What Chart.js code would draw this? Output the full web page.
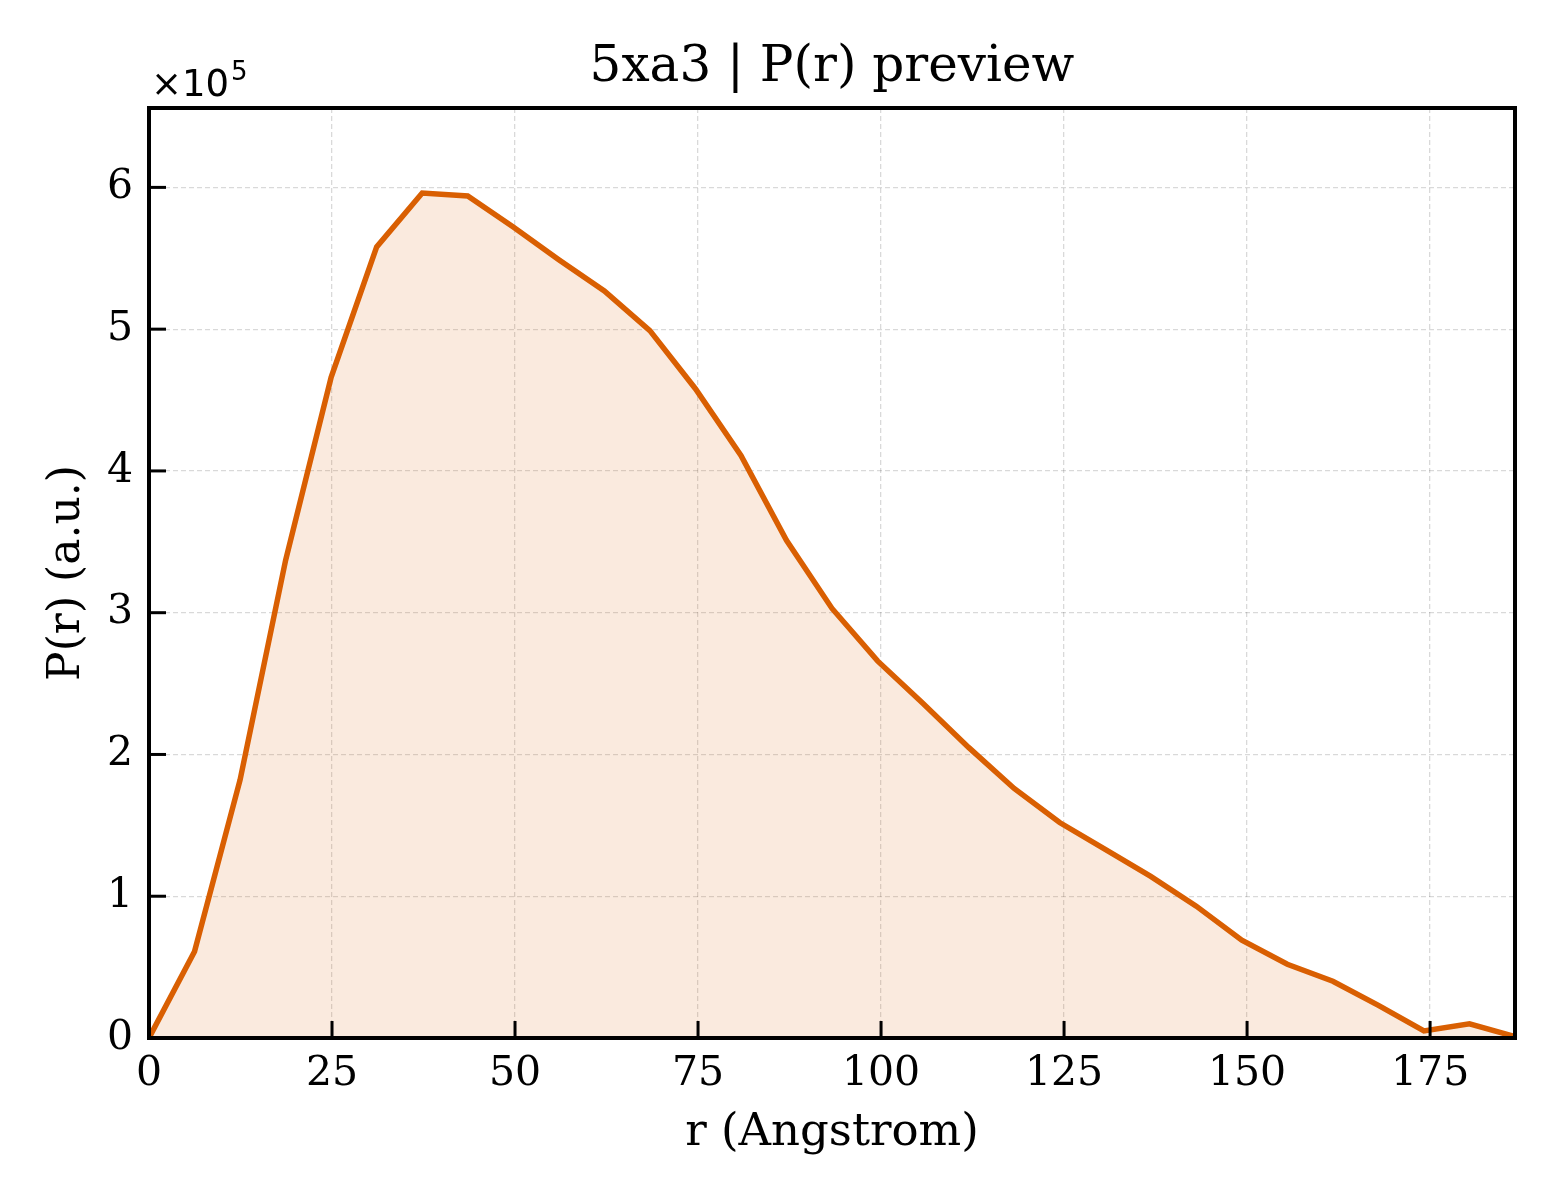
<!DOCTYPE html>
<html>
<head>
<meta charset="utf-8">
<script src="https://cdn.jsdelivr.net/npm/chart.js@4/dist/chart.umd.min.js"></script>
<style>
  html, body { margin: 0; padding: 0; background: #fff; }
  #wrap { width: 1560px; height: 1200px; }
</style>
</head>
<body>
<div id="wrap"><canvas id="c" width="1560" height="1200"></canvas></div>
<script>
// r values (Angstrom)
const rValues = [0, 6.22, 12.44, 18.66, 24.88, 31.1, 37.32, 43.54, 49.76, 55.98, 62.2, 68.42,
  74.64, 80.86, 87.08, 93.3, 99.52, 105.74, 111.96, 118.18, 124.4, 130.62, 136.84, 143.06,
  149.28, 155.5, 161.72, 167.94, 174.16, 180.38, 186.6];
// P(r) values (a.u.)
const prValues = [0, 61000, 182000, 337000, 466000, 558000, 596000, 594000, 572000, 549000, 527000, 499000,
  458000, 411000, 351000, 303000, 266000, 236000, 205000, 176000, 152000, 133000, 114000, 93000,
  69000, 52000, 40000, 23000, 5000, 10000, 1000];
const xTicks = [0, 25, 50, 75, 100, 125, 150, 175];
const yTicks = [0, 1, 2, 3, 4, 5, 6];
const yScaleFactor = 1e5;
const chartTitle = '5xa3 | P(r) preview';
const xLabel = 'r (Angstrom)';
const yLabel = 'P(r) (a.u.)';

const FONT = "'DejaVu Serif', serif";
const MATHFONT = "'DejaVu Sans', sans-serif";
const points = rValues.map((r, i) => ({ x: r, y: prValues[i] }));

const framePlugin = {
  id: 'frame',
  afterLayout(chart) {
    const tb = chart.titleBlock;
    if (tb) {
      tb.left = chart.chartArea.left;
      tb.right = chart.chartArea.right;
      tb.width = tb.right - tb.left;
    }
  },
  afterDraw(chart) {
    const { ctx, chartArea: a, scales } = chart;
    ctx.save();
    ctx.strokeStyle = '#000';
    // inward ticks
    ctx.lineWidth = 3;
    scales.x.ticks.forEach(t => {
      const px = scales.x.getPixelForValue(t.value);
      ctx.beginPath(); ctx.moveTo(px, a.bottom); ctx.lineTo(px, a.bottom - 17); ctx.stroke();
    });
    scales.y.ticks.forEach(t => {
      const py = scales.y.getPixelForValue(t.value);
      ctx.beginPath(); ctx.moveTo(a.left, py); ctx.lineTo(a.left + 17, py); ctx.stroke();
    });
    // frame
    ctx.lineWidth = 4;
    ctx.strokeRect(a.left, a.top, a.right - a.left, a.bottom - a.top);
    // offset text
    ctx.fillStyle = '#000';
    ctx.textBaseline = 'alphabetic';
    ctx.textAlign = 'left';
    ctx.font = "37px " + MATHFONT;
    const base = a.top - 12;
    ctx.fillText('\u00d710', a.left + 2, base);
    const w = ctx.measureText('\u00d710').width;
    ctx.font = "26px " + MATHFONT;
    ctx.fillText('5', a.left + 2 + w + 2, base - 16);
    ctx.restore();
  }
};

new Chart(document.getElementById('c'), {
  type: 'line',
  data: {
    datasets: [{
      data: points,
      borderColor: '#D95F02',
      backgroundColor: 'rgba(217,95,2,0.13)',
      borderWidth: 5.5,
      fill: 'origin',
      pointRadius: 0,
      tension: 0
    }]
  },
  options: {
    responsive: false,
    animation: false,
    devicePixelRatio: 1,
    layout: { padding: { left: 0, right: 45, top: 0, bottom: 0 } },
    plugins: {
      legend: { display: false },
      tooltip: { enabled: false },
      title: {
        display: true,
        text: chartTitle,
        color: '#000',
        font: { family: FONT, size: 50, weight: 'normal', lineHeight: 1.2 },
        padding: { top: 38, bottom: 10 }
      }
    },
    scales: {
      x: {
        type: 'linear',
        min: 0,
        max: 186.6,
        afterBuildTicks(scale) { scale.ticks = xTicks.map(v => ({ value: v })); },
        afterFit(scale) { scale.height = 162; },
        ticks: {
          color: '#000',
          font: { family: FONT, size: 41 },
          padding: 12,
          maxRotation: 0,
          autoSkip: false,
          callback: v => String(v)
        },
        grid: { color: 'rgba(0,0,0,0.15)', lineWidth: 1.3, drawTicks: false },
        border: { display: false, dash: [5, 3] },
        title: {
          display: true,
          text: xLabel,
          color: '#000',
          font: { family: FONT, size: 45, lineHeight: 1.2 },
          padding: { top: 0, bottom: 40 }
        }
      },
      y: {
        type: 'linear',
        min: 0,
        max: 656000,
        afterBuildTicks(scale) { scale.ticks = yTicks.map(v => ({ value: v * yScaleFactor })); },
        afterFit(scale) { scale.width = 149; },
        ticks: {
          color: '#000',
          font: { family: FONT, size: 41 },
          padding: 16,
          autoSkip: false,
          callback: v => String(Math.round(v / yScaleFactor))
        },
        grid: { color: 'rgba(0,0,0,0.15)', lineWidth: 1.3, drawTicks: false },
        border: { display: false, dash: [5, 3] },
        title: {
          display: true,
          text: yLabel,
          color: '#000',
          font: { family: FONT, size: 44, lineHeight: 1.2 },
          padding: { top: 41, bottom: 0 }
        }
      }
    }
  },
  plugins: [framePlugin]
});
</script>
</body>
</html>
